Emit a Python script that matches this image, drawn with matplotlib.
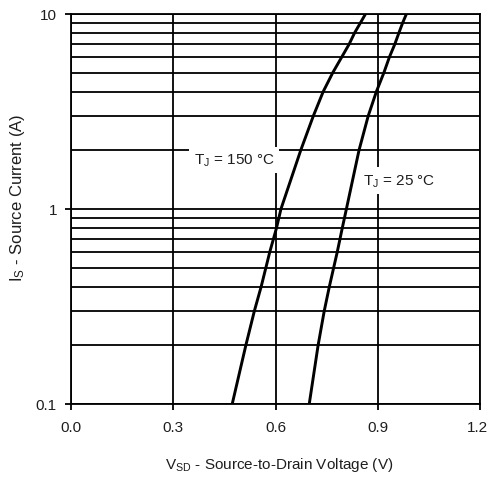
import matplotlib
matplotlib.use("Agg")
import matplotlib.pyplot as plt
import matplotlib.transforms as mtransforms
from matplotlib.ticker import FixedLocator, NullFormatter

plt.rcParams['font.family'] = ['Liberation Sans', 'DejaVu Sans']
plt.rcParams['mathtext.fontset'] = 'custom'
plt.rcParams['mathtext.rm'] = 'Liberation Sans'
plt.rcParams['mathtext.it'] = 'Liberation Sans'
plt.rcParams['mathtext.default'] = 'rm'

# Source current (A) at which the diode voltage was read
current_a = [0.1, 0.2, 0.3, 0.4, 0.6, 0.8, 1, 2, 3, 4, 5, 6, 7, 8, 9, 10]
# Source-to-drain voltage (V) for each junction temperature
vsd_150c = [0.473, 0.513, 0.538, 0.558, 0.583, 0.603, 0.616, 0.674,
            0.711, 0.740, 0.768, 0.794, 0.816, 0.832, 0.849, 0.864]
vsd_25c = [0.699, 0.725, 0.743, 0.758, 0.781, 0.796, 0.808, 0.845,
           0.872, 0.896, 0.918, 0.934, 0.950, 0.962, 0.973, 0.984]

x_ticks = [0.0, 0.3, 0.6, 0.9, 1.2]
x_ticklabels = ["0.0", "0.3", "0.6", "0.9", "1.2"]
y_ticks = [0.1, 1, 10]
y_ticklabels = ["0.1", "1", "10"]
y_minor = [m * d for d in (0.1, 1) for m in range(2, 10)]

label_150 = r"$\mathrm{T_J}$ = 150 °C"
label_25 = r"$\mathrm{T_J}$ = 25 °C"
xlabel = r"$\mathrm{V_{SD}}$ - Source-to-Drain Voltage (V)"
ylabel = r"$\mathrm{I_S}$ - Source Current (A)"

W, H = 488, 481
fig = plt.figure(figsize=(W / 100, H / 100), dpi=100)
L, R, T, B = 71, 480, 15, 405
ax = fig.add_axes([L / W, 1 - B / H, (R - L) / W, (B - T) / H])

text_color = '#1e1e1e'
grid_lw = 1.3

ax.set_yscale('log')
ax.set_xlim(0, 1.2)
ax.set_ylim(0.1, 10)

ax.xaxis.set_major_locator(FixedLocator(x_ticks))
ax.set_xticklabels(x_ticklabels)
ax.yaxis.set_major_locator(FixedLocator(y_ticks))
ax.set_yticklabels(y_ticklabels)
ax.yaxis.set_minor_locator(FixedLocator(y_minor))
ax.yaxis.set_minor_formatter(NullFormatter())
ax.xaxis.set_minor_locator(FixedLocator([]))

ax.tick_params(axis='both', which='major', direction='out', length=4.6,
               width=grid_lw, color='black', labelsize=11,
               labelcolor=text_color)
ax.tick_params(axis='y', which='major', pad=5.5)
ax.tick_params(axis='x', which='major', pad=7)
ax.tick_params(axis='y', which='minor', length=0)

# nudge the last x tick label so it stays inside the canvas
last = ax.get_xticklabels()[-1]
last.set_transform(last.get_transform() +
                   mtransforms.ScaledTranslation(-3 / 100, 0, fig.dpi_scale_trans))

ax.grid(True, which='major', axis='x', color='black', lw=grid_lw)
ax.grid(True, which='both', axis='y', color='black', lw=grid_lw)
for s in ax.spines.values():
    s.set_color('black')
    s.set_linewidth(grid_lw)

ax.plot(vsd_150c, current_a, color='black', lw=2.1, zorder=3)
ax.plot(vsd_25c, current_a, color='black', lw=2.1, zorder=3)

box = dict(facecolor='white', edgecolor='none', pad=3.5)
ax.text(0.360, 1.78, label_150, fontsize=11, color=text_color,
        va='center', ha='left', bbox=box, zorder=4)
ax.text(0.856, 1.40, label_25, fontsize=11, color=text_color,
        va='center', ha='left', bbox=box, zorder=4)

fig.text(279 / W, 1 - 465 / H, xlabel, fontsize=11, color=text_color,
         ha='center', va='center')
fig.text(18 / W, 1 - 198 / H, ylabel, fontsize=12, color=text_color,
         ha='center', va='center', rotation=90)

fig.savefig('out.png', dpi=100)
